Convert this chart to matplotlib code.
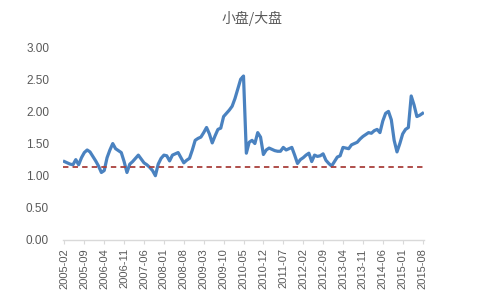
import matplotlib
matplotlib.use("Agg")
import matplotlib.pyplot as plt
import pandas as pd

plt.rcParams['font.family'] = ['Liberation Sans', 'Noto Sans CJK SC', 'DejaVu Sans']

title = "小盘/大盘"
ratio = [
    1.22, 1.20, 1.18, 1.17, 1.25, 1.17, 1.28, 1.36, 1.40, 1.37,
    1.30, 1.23, 1.15, 1.05, 1.08, 1.28, 1.40, 1.50, 1.42, 1.39,
    1.36, 1.22, 1.05, 1.18, 1.22, 1.27, 1.32, 1.26, 1.20, 1.17,
    1.13, 1.08, 1.00, 1.18, 1.27, 1.32, 1.31, 1.23, 1.32, 1.34,
    1.36, 1.28, 1.20, 1.24, 1.27, 1.40, 1.55, 1.58, 1.60, 1.67,
    1.75, 1.65, 1.51, 1.62, 1.72, 1.74, 1.92, 1.97, 2.02, 2.08,
    2.20, 2.35, 2.50, 2.55, 1.35, 1.52, 1.55, 1.50, 1.67, 1.60,
    1.33, 1.40, 1.43, 1.41, 1.39, 1.38, 1.38, 1.44, 1.40, 1.42,
    1.44, 1.32, 1.19, 1.25, 1.28, 1.32, 1.35, 1.22, 1.32, 1.30,
    1.31, 1.34, 1.24, 1.19, 1.15, 1.22, 1.29, 1.31, 1.44, 1.43,
    1.42, 1.48, 1.50, 1.52, 1.57, 1.61, 1.64, 1.67, 1.66, 1.70,
    1.72, 1.67, 1.85, 1.97, 2.00, 1.87, 1.55, 1.37, 1.50, 1.65,
    1.72, 1.75, 2.24, 2.10, 1.92, 1.94, 1.97,
]
baseline = 1.13
months = pd.period_range("2005-02", periods=len(ratio), freq="M").strftime("%Y-%m").tolist()
tick_step = 7
y_ticks = [0.0, 0.5, 1.0, 1.5, 2.0, 2.5, 3.0]

fig = plt.figure(figsize=(5, 3), dpi=100)
ax = fig.add_axes([0.126, 0.2, 0.722, 0.643])

x = list(range(len(ratio)))
ax.plot(x, ratio, color="#4A82C0", linewidth=2.3, solid_joinstyle="round")
ax.plot([x[0] - 0.5, x[-1] + 0.5], [baseline, baseline], color="#A9403C",
        linewidth=1.3, linestyle=(0, (3.0, 2.3)))

ax.set_xlim(-0.5, len(ratio) - 0.5)
ax.set_ylim(0, 3.0)
ax.set_yticks(y_ticks)
ax.set_yticklabels([f"{v:.2f}" for v in y_ticks])
tick_idx = list(range(0, len(ratio), tick_step))
ax.set_xticks(tick_idx)
ax.set_xticklabels([months[i] for i in tick_idx], rotation=90)

for s in ["top", "right", "left"]:
    ax.spines[s].set_visible(False)
ax.spines["bottom"].set_color("#D9D9D9")
ax.spines["bottom"].set_linewidth(1.0)
ax.tick_params(axis="y", length=0, labelsize=8.5, labelcolor="#595959", pad=10)
ax.tick_params(axis="x", length=3, color="#D9D9D9", labelsize=8, labelcolor="#595959", pad=3)

fig.text(0.505, 0.94, title, ha="center", va="center", fontsize=10,
         color="#595959", family=["Noto Sans CJK SC", "DejaVu Sans"])

fig.savefig("out.png", dpi=100, facecolor="white")
